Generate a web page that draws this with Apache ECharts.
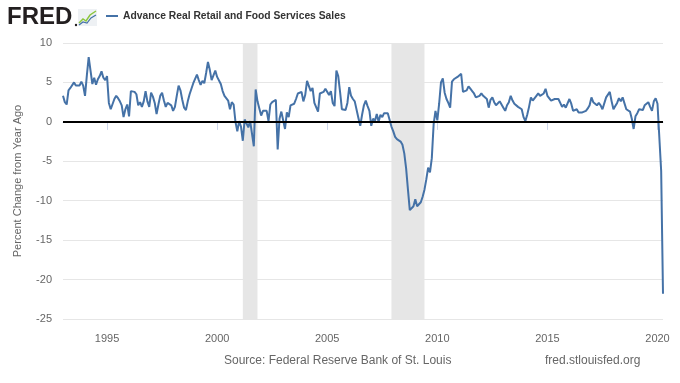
<!DOCTYPE html>
<html>
<head>
<meta charset="utf-8">
<script src="https://cdn.jsdelivr.net/npm/echarts@6/dist/echarts.min.js"></script>
<style>
  html, body { margin: 0; padding: 0; background: #ffffff; }
  #chart { width: 680px; height: 383px; }
</style>
</head>
<body>
<div id="chart"></div>
<script>
// ---- Data (monthly, percent change from year ago) ----
const seriesName = 'Advance Real Retail and Food Services Sales';
const startYear = 1993;   // first observation: 1993-01
const pctChange = [
  3.3, 2.5, 2.2, 4.0, 4.3, 4.2, 5.0, 4.6, 4.4, 4.6, 5.1, 4.6,          // 1993
  3.3, 5.9, 8.2, 6.5, 4.8, 5.6, 4.7, 5.4, 5.8, 6.4, 5.6, 5.3,          // 1994
  5.8, 2.4, 1.6, 1.7, 2.9, 3.3, 3.0, 2.6, 2.1, 0.6, 1.6, 2.2,          // 1995
  0.7, 3.9, 3.9, 3.8, 3.5, 2.1, 2.5, 1.9, 2.6, 3.9, 2.6, 1.9,          // 1996
  3.7, 3.2, 2.4, 1.0, 2.2, 3.3, 3.7, 2.7, 1.9, 2.4, 2.4, 2.1,          // 1997
  1.4, 1.9, 3.3, 4.6, 4.0, 2.8, 1.8, 1.5, 2.6, 3.5, 4.2, 4.9,          // 1998
  5.0, 6.0, 5.3, 4.7, 5.2, 4.9, 6.2, 7.6, 6.6, 5.3, 5.9, 6.5,          // 1999
  5.7, 5.8, 4.8, 3.9, 3.3, 3.1, 2.7, 1.6, 2.5, 2.2, 0.0, -1.2,         // 2000
  0.1, -0.6, -2.4, 0.3, 0.2, -0.7, 0.1, 0.2, -3.1, 4.1, 2.6, 1.7,      // 2001
  0.8, 1.4, 1.2, 1.4, 0.1, 2.2, 2.5, 2.7, 2.8, -3.5, 0.4, 1.3,         // 2002
  1.3, -0.9, 1.2, 0.6, 2.1, 2.3, 2.3, 2.9, 3.6, 3.7, 3.8, 2.6,         // 2003
  3.4, 5.2, 5.0, 3.9, 4.3, 2.4, 2.2, 1.3, 3.6, 3.6, 3.8, 4.2,          // 2004
  4.0, 3.4, 3.9, 2.4, 2.0, 6.5, 5.8, 3.8, 1.6, 1.8, 1.5, 2.4,          // 2005
  4.4, 3.3, 2.9, 2.6, 2.8, 0.5, -0.5, 0.9, 2.1, 2.7, 2.0, 1.4,         // 2006
  -0.5, 0.4, 0.1, 1.0, 0.0, 0.9, 0.6, 1.1, 1.1, 1.1, 1.0, -0.6,        // 2007
  -1.2, -1.9, -2.2, -2.4, -2.5, -2.9, -4.0, -5.9, -8.6, -11.2, -11.3, -10.7, // 2008
  -9.8, -10.7, -10.9, -10.2, -9.5, -8.6, -7.3, -5.8, -6.4, -4.6, -0.3, 1.4,  // 2009
  0.2, 2.3, 5.0, 5.5, 3.7, 2.9, 2.4, 1.8, 5.1, 5.4, 5.3, 5.7,          // 2010
  5.5, 6.1, 3.8, 3.6, 4.0, 4.5, 4.2, 3.9, 3.6, 3.1, 2.9, 3.3,          // 2011
  3.6, 3.3, 3.4, 2.9, 1.8, 2.8, 3.1, 2.5, 2.1, 2.3, 2.6, 2.4,          // 2012
  1.8, 1.4, 2.1, 2.5, 3.3, 2.7, 2.3, 2.5, 1.9, 2.1, 1.6, 0.6,          // 2013
  0.1, 0.9, 1.9, 3.1, 2.7, 2.9, 3.3, 3.6, 3.3, 3.4, 3.6, 4.2,          // 2014
  3.3, 3.2, 2.7, 2.5, 2.9, 2.7, 2.9, 2.4, 1.9, 2.2, 1.8, 1.6,          // 2015
  2.9, 2.3, 1.4, 1.2, 1.6, 1.2, 1.0, 1.2, 1.0, 1.4, 1.7, 2.1,          // 2016
  3.1, 2.5, 2.7, 2.1, 2.4, 2.1, 1.6, 1.7, 3.1, 3.3, 3.8, 2.6,          // 2017
  1.6, 2.0, 2.4, 3.0, 2.6, 3.1, 2.9, 1.6, 1.8, 1.3, 0.4, -0.9,         // 2018
  0.7, 1.1, 1.6, 1.8, 1.5, 2.1, 2.2, 2.5, 1.9, 1.4, 2.6, 3.0,          // 2019
  2.3, 2.1, -6.2, -21.8                                               // 2020
];
// Recessions: [start year, start month], [end year, end month]
const recessions = [
  [[2001, 3], [2001, 11]],
  [[2007, 12], [2009, 6]]
];
const xTickYears = [1995, 2000, 2005, 2010, 2015, 2020];
const yMin = -25, yMax = 10, yStep = 5;

// ---- Build ----
const toYear = (y, m) => y + (m - 1) / 12;
const lineData = pctChange.map((v, i) => [startYear + i / 12, v]);
const xMax = startYear + (pctChange.length - 1) / 12;
const areaData = recessions.map(r => [{ xAxis: toYear(r[0][0], r[0][1]) }, { xAxis: toYear(r[1][0], r[1][1]) }]);

const chart = echarts.init(document.getElementById('chart'), null, { renderer: 'canvas' });
const font = 'Liberation Sans, Arial, sans-serif';

chart.setOption({
  animation: false,
  backgroundColor: '#ffffff',
  textStyle: { fontFamily: font },
  grid: { left: 63, right: 17, top: 43, bottom: 64, containLabel: false },
  legend: {
    data: [seriesName],
    left: 101, top: 6,
    icon: 'rect', itemWidth: 12, itemHeight: 2, itemGap: 6,
    textStyle: { fontSize: 10.3, color: '#333333', fontWeight: 'bold', fontFamily: font },
    selectedMode: false
  },
  xAxis: {
    type: 'value', min: startYear, max: xMax,
    axisLine: { show: true, lineStyle: { color: '#ccd6eb', width: 1 } },
    axisTick: { show: true, customValues: xTickYears, length: 8, lineStyle: { color: '#ccd6eb' } },
    axisLabel: { customValues: xTickYears, formatter: v => String(Math.round(v)), color: '#666666', fontSize: 11, margin: 14 },
    splitLine: { show: false }
  },
  yAxis: {
    type: 'value', min: yMin, max: yMax, interval: yStep,
    name: 'Percent Change from Year Ago', nameLocation: 'middle', nameGap: 40,
    nameTextStyle: { color: '#666666', fontSize: 11 },
    axisLine: { show: false }, axisTick: { show: false },
    axisLabel: { color: '#666666', fontSize: 11, margin: 11 },
    splitLine: { show: true, lineStyle: { color: '#e6e6e6', width: 1 } }
  },
  graphic: [
    { type: 'text', left: 7, top: 5, style: { text: 'FRED', fontFamily: font, fontWeight: 'bold', fontSize: 24, fill: '#231f20' } },
    { type: 'circle', shape: { cx: 76, cy: 25, r: 1.2 }, style: { fill: '#231f20' } },
    { type: 'rect', shape: { x: 78, y: 9, width: 19, height: 17 }, style: { fill: '#eef1f4' } },
    { type: 'polyline', shape: { points: [[79, 23], [83, 19], [86, 21], [90, 15], [96, 11]] }, style: { stroke: '#8cc63f', lineWidth: 1.5, fill: null } },
    { type: 'polyline', shape: { points: [[79, 25], [83, 22], [87, 23], [91, 18], [96, 15]] }, style: { stroke: '#4572a7', lineWidth: 1.2, fill: null } },
    { type: 'text', left: 224, top: 355, style: { text: 'Source: Federal Reserve Bank of St. Louis', fontFamily: font, fontSize: 12, fill: '#666666' } },
    { type: 'text', left: 545, top: 355, style: { text: 'fred.stlouisfed.org', fontFamily: font, fontSize: 12, fill: '#666666' } }
  ],
  series: [
    {
      name: 'recessions', type: 'line', data: [], z: 1, silent: true,
      markArea: { silent: true, itemStyle: { color: '#e6e6e6' }, data: areaData }
    },
    {
      name: seriesName, type: 'line', data: lineData, z: 3,
      showSymbol: false, symbol: 'none',
      lineStyle: { color: '#4572a7', width: 2 },
      itemStyle: { color: '#4572a7' },
      markLine: {
        silent: true, symbol: 'none', label: { show: false },
        lineStyle: { color: '#000000', width: 2, type: 'solid' },
        data: [{ yAxis: 0 }]
      }
    }
  ]
});
</script>
</body>
</html>
